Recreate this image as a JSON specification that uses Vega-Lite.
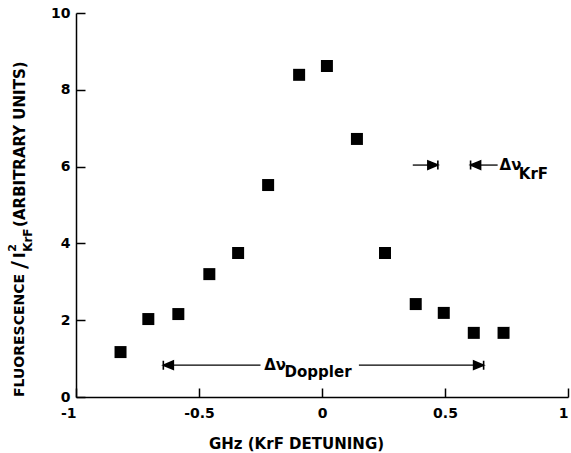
{
  "$schema": "https://vega.github.io/schema/vega-lite/v6.json",
  "width": 492,
  "height": 384,
  "autosize": {"type": "none"},
  "padding": {"left": 76, "top": 13, "right": 3, "bottom": 56},
  "background": "white",
  "config": {"view": {"stroke": null}, "font": "DejaVu Sans"},
  "datasets": {
    "points": [
      {"x": -0.819, "y": 1.17}, {"x": -0.706, "y": 2.03}, {"x": -0.584, "y": 2.16},
      {"x": -0.458, "y": 3.2}, {"x": -0.341, "y": 3.75}, {"x": -0.219, "y": 5.52},
      {"x": -0.093, "y": 8.39}, {"x": 0.02, "y": 8.62}, {"x": 0.142, "y": 6.72},
      {"x": 0.256, "y": 3.75}, {"x": 0.381, "y": 2.42}, {"x": 0.495, "y": 2.19},
      {"x": 0.617, "y": 1.67}, {"x": 0.738, "y": 1.67}
    ],
    "segments": [
      {"x": -0.645, "x2": -0.25, "y": 0.83},
      {"x": 0.15, "x2": 0.657, "y": 0.83},
      {"x": 0.369, "x2": 0.471, "y": 6.04},
      {"x": 0.604, "x2": 0.714, "y": 6.04}
    ],
    "heads": [
      {"x": -0.645, "y": 0.83, "dir": "left"},
      {"x": 0.657, "y": 0.83, "dir": "right"},
      {"x": 0.471, "y": 6.04, "dir": "right"},
      {"x": 0.604, "y": 6.04, "dir": "left"}
    ],
    "labels": [
      {"t": "FLUORESCENCE", "x": -1.228, "y": 0.0, "g": "yt14"},
      {"t": "/", "x": -1.226, "y": 3.44, "g": "slash"},
      {"t": "I", "x": -1.228, "y": 3.62, "g": "yt15"},
      {"t": "(ARBITRARY  UNITS)", "x": -1.228, "y": 4.43, "g": "yt15"},
      {"t": "2", "x": -1.258, "y": 3.78, "g": "sup"},
      {"t": "KrF", "x": -1.195, "y": 3.78, "g": "sub"},
      {"t": "Δν", "x": -0.235, "y": 0.83, "g": "delta"},
      {"t": "Doppler", "x": -0.152, "y": 0.52, "g": "annsub"},
      {"t": "Δν", "x": 0.722, "y": 6.04, "g": "delta"},
      {"t": "KrF", "x": 0.8, "y": 5.68, "g": "annsub"}
    ]
  },
  "encoding": {
    "x": {
      "field": "x", "type": "quantitative",
      "scale": {"domain": [-1, 1], "nice": false, "zero": false},
      "axis": {
        "values": [-1, -0.5, 0, 0.5, 1],
        "labelExpr": "'' + datum.value",
        "title": "GHz  (KrF  DETUNING)",
        "titleFont": "DejaVu Sans", "titleFontSize": 15, "titleFontWeight": "bold", "titleColor": "black",
        "titleX": 220, "titleY": 51, "titleBaseline": "alphabetic", "titleAnchor": "middle", "titleAlign": "center",
        "labelFont": "DejaVu Sans", "labelFontSize": 14, "labelFontWeight": "bold", "labelColor": "black",
        "labelAlign": {"condition": {"test": "abs(datum.value) == 1", "value": "right"}, "value": "center"},
        "labelPadding": 18, "labelFlush": false,
        "ticks": true, "tickSize": -9, "tickColor": "black", "tickWidth": 1.5,
        "domainColor": "black", "domainWidth": 1.5, "grid": false
      }
    },
    "y": {
      "field": "y", "type": "quantitative",
      "scale": {"domain": [0, 10], "nice": false},
      "axis": {
        "values": [0, 2, 4, 6, 8, 10],
        "labelExpr": "'' + datum.value",
        "title": null,
        "labelFont": "DejaVu Sans", "labelFontSize": 14, "labelFontWeight": "bold", "labelColor": "black",
        "labelPadding": 15, "labelFlush": false,
        "ticks": true, "tickSize": -9, "tickColor": "black", "tickWidth": 1.5,
        "domainColor": "black", "domainWidth": 1.5, "grid": false
      }
    }
  },
  "layer": [
    {
      "data": {"name": "points"},
      "mark": {"type": "point", "shape": "square", "filled": true, "size": 144, "color": "black", "opacity": 1}
    },
    {
      "data": {"name": "segments"},
      "mark": {"type": "rule", "color": "black", "strokeWidth": 1.3},
      "encoding": {"x2": {"field": "x2"}}
    },
    {
      "data": {"name": "heads"},
      "mark": {"type": "point", "filled": true, "size": 400, "color": "black", "stroke": "black", "strokeWidth": 1.6, "opacity": 1},
      "encoding": {
        "shape": {
          "field": "dir", "type": "nominal",
          "scale": {"domain": ["left", "right"], "range": ["M0,-0.45L0,0.45M0,0L1,-0.42L1,0.42Z", "M0,-0.45L0,0.45M0,0L-1,-0.42L-1,0.42Z"]},
          "legend": null
        }
      }
    },
    {
      "data": {"name": "labels"},
      "transform": [{"filter": "datum.g == 'yt14'"}],
      "mark": {"type": "text", "angle": 270, "align": "left", "baseline": "middle", "font": "DejaVu Sans", "fontSize": 14, "fontWeight": "bold", "color": "black"},
      "encoding": {"text": {"field": "t"}}
    },
    {
      "data": {"name": "labels"},
      "transform": [{"filter": "datum.g == 'slash'"}],
      "mark": {"type": "text", "angle": 270, "align": "center", "baseline": "middle", "font": "DejaVu Sans", "fontSize": 22, "fontWeight": "bold", "color": "black"},
      "encoding": {"text": {"field": "t"}}
    },
    {
      "data": {"name": "labels"},
      "transform": [{"filter": "datum.g == 'yt15'"}],
      "mark": {"type": "text", "angle": 270, "align": "left", "baseline": "middle", "font": "DejaVu Sans", "fontSize": 15, "fontWeight": "bold", "color": "black"},
      "encoding": {"text": {"field": "t"}}
    },
    {
      "data": {"name": "labels"},
      "transform": [{"filter": "datum.g == 'sup'"}],
      "mark": {"type": "text", "angle": 270, "align": "left", "baseline": "middle", "font": "DejaVu Sans", "fontSize": 11, "fontWeight": "bold", "color": "black"},
      "encoding": {"text": {"field": "t"}}
    },
    {
      "data": {"name": "labels"},
      "transform": [{"filter": "datum.g == 'sub'"}],
      "mark": {"type": "text", "angle": 270, "align": "left", "baseline": "middle", "font": "DejaVu Sans", "fontSize": 12, "fontWeight": "bold", "color": "black"},
      "encoding": {"text": {"field": "t"}}
    },
    {
      "data": {"name": "labels"},
      "transform": [{"filter": "datum.g == 'delta'"}],
      "mark": {"type": "text", "align": "left", "baseline": "middle", "font": "DejaVu Sans", "fontSize": 15, "fontWeight": "bold", "color": "black"},
      "encoding": {"text": {"field": "t"}}
    },
    {
      "data": {"name": "labels"},
      "transform": [{"filter": "datum.g == 'annsub'"}],
      "mark": {"type": "text", "align": "left", "baseline": "alphabetic", "font": "DejaVu Sans", "fontSize": 15, "fontWeight": "bold", "color": "black"},
      "encoding": {"text": {"field": "t"}}
    }
  ]
}
